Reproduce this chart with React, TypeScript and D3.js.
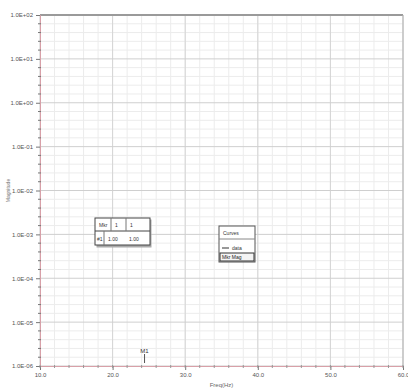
import React, { useEffect, useRef } from 'react';
import * as d3 from 'd3';

const xTicks = [10, 20, 30, 40, 50, 60];
const yTicks = [1e-6, 1e-5, 1e-4, 1e-3, 1e-2, 1e-1, 1e0, 1e1, 1e2];
const markerX = [24.4];
const markerLabels = ['M1'];
const tableHeader = ['Mkr', '1', '1'];
const tableRow = ['#1', '1.00', '1.00'];
const legendItems = ['data', 'Mkr Mag'];

const App = () => {
  const svgRef = useRef<SVGSVGElement | null>(null);

  useEffect(() => {
    const W = 408, H = 392;
    const margin = { top: 15, right: 5, bottom: 26, left: 40 };
    const width = W - margin.left - margin.right;
    const height = H - margin.top - margin.bottom;

    const root = d3.select(svgRef.current);
    root.selectAll('*').remove();
    root.attr('width', W).attr('height', H).style('font-family', 'Arial, sans-serif');

    const x = d3.scaleLinear().domain([10, 60]).range([0, width]);
    const y = d3.scaleLog().domain([1e-6, 1e2]).range([height, 0]);

    const g = root.append('g').attr('transform', `translate(${margin.left},${margin.top})`);

    // minor grid
    const xMinor = d3.range(10, 60.01, 2);
    const yMinor: number[] = [];
    yTicks.slice(0, -1).forEach(t => d3.range(1, 5).forEach(k => yMinor.push(t * Math.pow(10, k / 5))));

    g.selectAll('.vminor').data(xMinor).enter().append('line')
      .attr('x1', d => x(d)).attr('x2', d => x(d)).attr('y1', 0).attr('y2', height)
      .attr('stroke', '#ececec').attr('stroke-width', 1);
    g.selectAll('.hminor').data(yMinor).enter().append('line')
      .attr('x1', 0).attr('x2', width).attr('y1', d => y(d)).attr('y2', d => y(d))
      .attr('stroke', '#ececec').attr('stroke-width', 1);
    g.selectAll('.vmajor').data(xTicks).enter().append('line')
      .attr('x1', d => x(d)).attr('x2', d => x(d)).attr('y1', 0).attr('y2', height)
      .attr('stroke', '#d4d4d4').attr('stroke-width', 1);
    g.selectAll('.hmajor').data(yTicks).enter().append('line')
      .attr('x1', 0).attr('x2', width).attr('y1', d => y(d)).attr('y2', d => y(d))
      .attr('stroke', '#cfcfcf').attr('stroke-width', 1);

    // frame
    g.append('line').attr('x1', 0).attr('x2', width).attr('y1', 0).attr('y2', 0)
      .attr('stroke', '#9a9a9a').attr('stroke-width', 2);
    g.append('line').attr('x1', width).attr('x2', width).attr('y1', 0).attr('y2', height)
      .attr('stroke', '#b5b5b5').attr('stroke-width', 1);

    // y axis
    const yAxis = g.append('g').call(
      d3.axisLeft(y).tickValues(yTicks).tickSize(4)
        .tickFormat(d => (d as number).toExponential(1).replace('e', 'E').replace(/E([+-])(\d)$/, 'E$10$2'))
    );
    yAxis.select('.domain').attr('stroke', '#d8a0a8');
    yAxis.selectAll('.tick line').attr('stroke', '#777');
    yAxis.selectAll('text').attr('font-size', 6).attr('fill', '#555');
    g.selectAll('.ymt').data(yMinor).enter().append('line')
      .attr('x1', -2).attr('x2', 1).attr('y1', d => y(d)).attr('y2', d => y(d))
      .attr('stroke', '#777');

    // x axis
    const xAxis = g.append('g').attr('transform', `translate(0,${height})`).call(
      d3.axisBottom(x).tickValues(xTicks).tickSize(4).tickFormat(d3.format('.1f'))
    );
    xAxis.select('.domain').attr('stroke', '#d8a0a8');
    xAxis.selectAll('.tick line').attr('stroke', '#777');
    xAxis.selectAll('text').attr('font-size', 6).attr('fill', '#555');
    g.selectAll('.xmt').data(xMinor).enter().append('line')
      .attr('x1', d => x(d)).attr('x2', d => x(d)).attr('y1', height - 1).attr('y2', height + 2)
      .attr('stroke', '#999');

    // axis titles
    g.append('text').attr('x', width / 2).attr('y', height + 21).attr('text-anchor', 'middle')
      .attr('font-size', 6).attr('fill', '#666').text('Freq(Hz)');
    g.append('text').attr('transform', `translate(${-30},${height / 2}) rotate(-90)`)
      .attr('text-anchor', 'middle').attr('font-size', 5).attr('fill', '#777').text('Magnitude');

    // marker
    markerX.forEach((m, i) => {
      g.append('line').attr('x1', x(m)).attr('x2', x(m)).attr('y1', height - 12).attr('y2', height - 3)
        .attr('stroke', '#555');
      g.append('text').attr('x', x(m)).attr('y', height - 13).attr('text-anchor', 'middle')
        .attr('font-size', 6).attr('fill', '#333').text(markerLabels[i]);
    });

    // marker table
    const tb = root.append('g').attr('transform', 'translate(95,218)');
    tb.append('rect').attr('x', 1.5).attr('y', 1.5).attr('width', 55).attr('height', 28).attr('fill', '#aaa');
    tb.append('rect').attr('width', 55).attr('height', 27).attr('fill', '#fff').attr('stroke', '#444');
    tb.append('line').attr('x1', 0).attr('x2', 55).attr('y1', 13).attr('y2', 13).attr('stroke', '#444');
    const cols = [0, 16, 31];
    [16, 31].forEach(c => tb.append('line').attr('x1', c).attr('x2', c).attr('y1', 0).attr('y2', 13).attr('stroke', '#777'));
    [9].forEach(c => tb.append('line').attr('x1', c).attr('x2', c).attr('y1', 13).attr('y2', 27).attr('stroke', '#777'));
    tableHeader.forEach((t, i) => tb.append('text').attr('x', cols[i] + 4).attr('y', 9)
      .attr('font-size', 5).attr('fill', '#333').text(t));
    const rowCols = [2, 13, 34];
    tableRow.forEach((t, i) => tb.append('text').attr('x', rowCols[i]).attr('y', 23)
      .attr('font-size', 5).attr('fill', '#333').text(t));

    // legend box
    const lg = root.append('g').attr('transform', 'translate(219,226)');
    lg.append('rect').attr('width', 36).attr('height', 36).attr('fill', '#fff').attr('stroke', '#555');
    lg.append('text').attr('x', 4).attr('y', 9).attr('font-size', 5).attr('fill', '#333').text('Curves');
    lg.append('line').attr('x1', 0).attr('x2', 36).attr('y1', 13).attr('y2', 13).attr('stroke', '#888');
    lg.append('line').attr('x1', 3).attr('x2', 10).attr('y1', 22).attr('y2', 22).attr('stroke', '#333');
    lg.append('text').attr('x', 13).attr('y', 24).attr('font-size', 5).attr('fill', '#333').text(legendItems[0]);
    lg.append('rect').attr('x', 1).attr('y', 27).attr('width', 34).attr('height', 8).attr('fill', '#f4f4f4').attr('stroke', '#333');
    lg.append('text').attr('x', 3).attr('y', 33).attr('font-size', 5).attr('fill', '#222').text(legendItems[1]);
  }, []);

  return <svg ref={svgRef} style={{ position: 'absolute', left: 0, top: 0 }} />;
};

export default App;
